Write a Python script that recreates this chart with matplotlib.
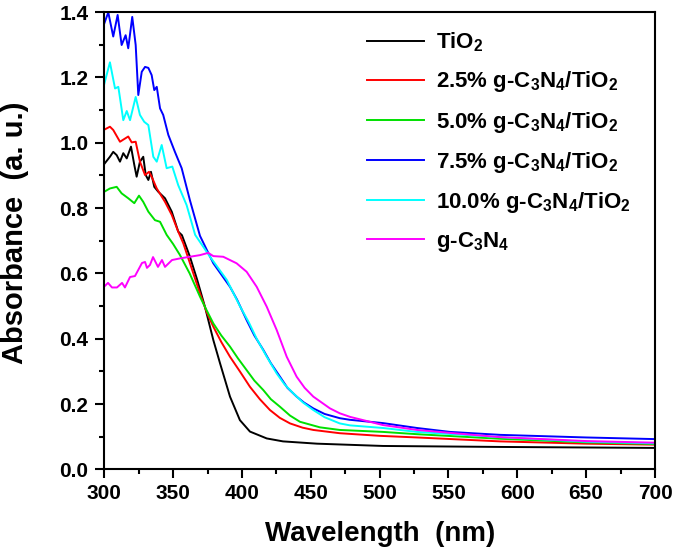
import numpy as np
import matplotlib
matplotlib.use('Agg')
import matplotlib.pyplot as plt
from matplotlib.ticker import MultipleLocator, FormatStrFormatter

# UV-vis absorbance spectra
wl_tio2 = [300, 304.1, 306.5, 309, 311.4, 313.8, 316.3, 319.4, 321.8, 323.5, 325.9, 328.3, 330.1, 332,
           333.9, 336.3, 339.2, 344.1, 349, 353.7, 356.4, 362.2, 367.5, 373.1, 379.2, 384, 391.3, 398.5,
           405.8, 418, 429.8, 454.5, 502.4, 587.4, 700]
abs_tio2 = [0.935, 0.957, 0.972, 0.962, 0.942, 0.968, 0.952, 0.988, 0.932, 0.896, 0.942, 0.957, 0.901, 0.886,
            0.911, 0.865, 0.850, 0.830, 0.789, 0.728, 0.717, 0.651, 0.58, 0.498, 0.396, 0.326, 0.223, 0.151,
            0.116, 0.095, 0.086, 0.079, 0.072, 0.069, 0.066]

wl_25 = [300, 304.1, 306.5, 311.4, 317.4, 319.9, 322.8, 325.9, 329.6, 332.5, 334.4, 338.1, 344.1, 349,
         353.7, 357.4, 363.5, 369.5, 374.5, 379.2, 385, 391.3, 398.5, 405.8, 413, 420.3, 427.5, 434.9, 444,
         451.8, 471, 500, 527.1, 587.4, 650, 700]
abs_25 = [1.04, 1.049, 1.039, 1.003, 1.019, 1.001, 1.003, 0.942, 0.901, 0.911, 0.896, 0.860, 0.819, 0.779,
          0.728, 0.692, 0.615, 0.539, 0.48, 0.437, 0.39, 0.345, 0.30, 0.253, 0.215, 0.182, 0.158, 0.141, 0.128,
          0.121, 0.111, 0.103, 0.098, 0.086, 0.079, 0.076]

wl_50 = [300, 304.1, 309, 312.6, 317.4, 321.8, 325.2, 328.3, 332, 336.8, 340.5, 345.3, 350, 355, 362, 369.5,
         374, 379.2, 385, 391.3, 397.1, 403.4, 409, 415.5, 421, 427.6, 434.9, 442.1, 456.6, 471, 502.4, 527.1,
         587.4, 650, 700]
abs_50 = [0.850, 0.860, 0.865, 0.845, 0.830, 0.815, 0.838, 0.819, 0.789, 0.763, 0.758, 0.718, 0.69, 0.656,
          0.60, 0.529, 0.49, 0.447, 0.41, 0.376, 0.34, 0.304, 0.272, 0.243, 0.215, 0.192, 0.165, 0.146, 0.129,
          0.121, 0.115, 0.108, 0.094, 0.083, 0.078]

wl_75 = [300, 302.9, 306.5, 309.7, 312.6, 315.5, 317.4, 320.3, 322.8, 324.7, 327.2, 329.6, 332, 334.4, 336.3,
         338.1, 340.5, 342.8, 346.5, 351.3, 356.2, 362.2, 369.5, 379.2, 391.3, 396.4, 403.4, 409, 415.5, 421,
         427.6, 433, 439.7, 445, 451.8, 460, 471, 478.5, 502.4, 527.1, 551.1, 587.4, 650, 700]
abs_75 = [1.365, 1.399, 1.325, 1.391, 1.299, 1.329, 1.289, 1.385, 1.299, 1.146, 1.217, 1.232, 1.229, 1.207,
          1.161, 1.171, 1.105, 1.085, 1.024, 0.972, 0.922, 0.824, 0.715, 0.631, 0.559, 0.52, 0.457, 0.41,
          0.366, 0.325, 0.284, 0.25, 0.223, 0.205, 0.187, 0.17, 0.157, 0.152, 0.142, 0.127, 0.115, 0.106,
          0.098, 0.093]

wl_100 = [300, 304.1, 307.8, 310.2, 313.8, 316.3, 318.7, 322.8, 325.9, 329, 332, 335.6, 338.1, 341.7, 345.3,
          349.4, 353.7, 359.8, 366, 376.8, 389, 398.5, 405, 410.7, 418, 425.2, 431, 437.3, 444.3, 451.8, 460,
          471, 478.5, 502.4, 527.1, 587.4, 650, 700]
abs_100 = [1.18, 1.246, 1.166, 1.171, 1.069, 1.097, 1.069, 1.140, 1.085, 1.064, 1.054, 0.957, 0.942, 0.993,
           0.922, 0.927, 0.870, 0.809, 0.718, 0.651, 0.58, 0.50, 0.45, 0.40, 0.345, 0.294, 0.26, 0.233, 0.205,
           0.182, 0.16, 0.141, 0.135, 0.127, 0.115, 0.099, 0.085, 0.08]

wl_gcn = [300, 302.7, 305.6, 309.2, 312.9, 315, 318.7, 322.3, 327.4, 329.6, 331, 333.2, 335.4, 339, 341.9,
          344.1, 349.2, 355, 362.2, 369.5, 375.5, 379.2, 386.4, 396.1, 403.4, 410.7, 418, 425.2, 432.5, 439.7,
          445.5, 451.8, 463.9, 471, 478.5, 502.4, 527.1, 551.1, 587.4, 650, 700]
abs_gcn = [0.56, 0.571, 0.557, 0.557, 0.571, 0.557, 0.589, 0.592, 0.632, 0.635, 0.617, 0.626, 0.65, 0.62,
           0.641, 0.62, 0.641, 0.646, 0.651, 0.656, 0.663, 0.653, 0.651, 0.631, 0.605, 0.559, 0.498, 0.427,
           0.345, 0.284, 0.25, 0.223, 0.187, 0.172, 0.161, 0.136, 0.121, 0.112, 0.099, 0.087, 0.082]

labels = ['TiO$_2$',
          '2.5% g-C$_3$N$_4$/TiO$_2$',
          '5.0% g-C$_3$N$_4$/TiO$_2$',
          '7.5% g-C$_3$N$_4$/TiO$_2$',
          '10.0% g-C$_3$N$_4$/TiO$_2$',
          'g-C$_3$N$_4$']
colors = ['#000000', '#ff0000', '#00e000', '#0000ff', '#00ffff', '#ff00ff']

plt.rcParams['font.family'] = 'Liberation Sans'
plt.rcParams['font.weight'] = 'bold'
plt.rcParams['mathtext.fontset'] = 'custom'
plt.rcParams['mathtext.rm'] = 'Liberation Sans'
plt.rcParams['mathtext.it'] = 'Liberation Sans:italic'
plt.rcParams['mathtext.bf'] = 'Liberation Sans:bold'

fig = plt.figure(figsize=(6.75, 5.56), dpi=100)
ax = fig.add_axes([0.1545, 0.1556, 0.8159, 0.8228])

series = [(wl_tio2, abs_tio2), (wl_25, abs_25), (wl_50, abs_50),
          (wl_75, abs_75), (wl_100, abs_100), (wl_gcn, abs_gcn)]
for (x, y), lab, c in zip(series, labels, colors):
    ax.plot(x, y, color=c, lw=1.4, label=lab)

ax.set_xlim(300, 700)
ax.set_ylim(0, 1.4)
ax.xaxis.set_major_locator(MultipleLocator(50))
ax.xaxis.set_minor_locator(MultipleLocator(25))
ax.yaxis.set_major_locator(MultipleLocator(0.2))
ax.yaxis.set_minor_locator(MultipleLocator(0.1))
ax.yaxis.set_major_formatter(FormatStrFormatter('%.1f'))

for s in ax.spines.values():
    s.set_linewidth(1.5)
ax.tick_params(which='major', direction='out', length=6.5, width=1.5, labelsize=15)
ax.tick_params(which='minor', direction='out', length=3.5, width=1.5)
ax.tick_params(axis='x', which='major', pad=4)
ax.tick_params(axis='y', which='major', pad=5)
for t in ax.get_xticklabels() + ax.get_yticklabels():
    t.set_fontweight('bold')

ax.set_xlabel('Wavelength  (nm)', fontsize=20, fontweight='bold')
ax.set_ylabel('Absorbance  (a. u.)', fontsize=21, fontweight='bold')
ax.xaxis.set_label_coords(0.5, -0.112)
ax.yaxis.set_label_coords(-0.137, 0.517)

ax.legend(loc='upper left', bbox_to_anchor=(0.477, 0.959), frameon=False,
          fontsize=16, borderpad=0, borderaxespad=0, handlelength=2.57,
          handletextpad=0.55, labelspacing=0.68)

fig.savefig('out.png', dpi=100)
